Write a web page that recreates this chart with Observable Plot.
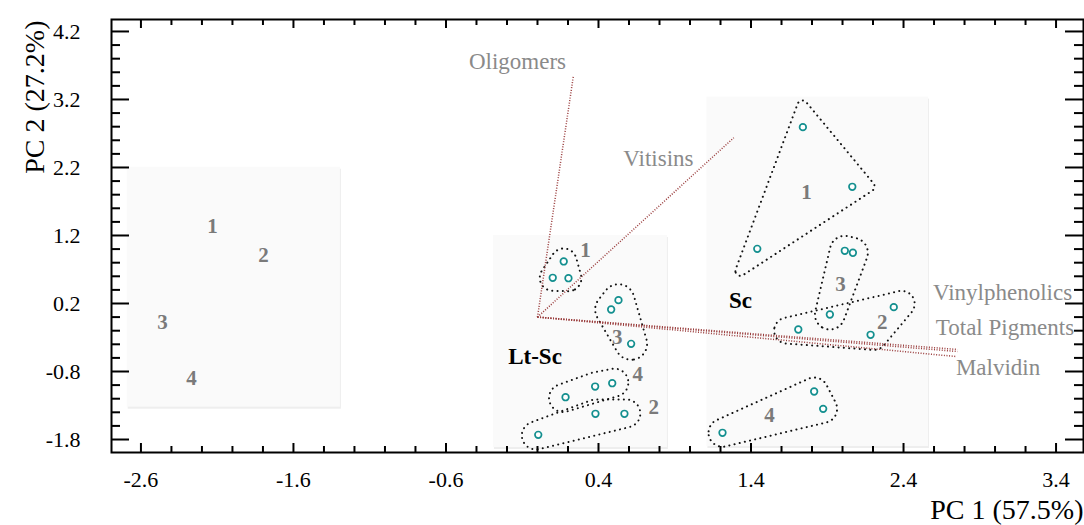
<!DOCTYPE html>
<html><head><meta charset="utf-8">
<script src="https://cdn.jsdelivr.net/npm/d3@7"></script>
<script src="https://cdn.jsdelivr.net/npm/@observablehq/plot@0.6"></script>
<style>body{margin:0;background:#fff;} #chart svg{display:block;}</style>
</head><body><div id="chart"></div>
<script>
// ---------- data ----------
const xTickValues = [-2.6, -1.6, -0.6, 0.4, 1.4, 2.4, 3.4];
const yTickValues = [-1.8, -0.8, 0.2, 1.2, 2.2, 3.2, 4.2];
const xAxisTitle = "PC 1 (57.5%)";
const yAxisTitle = "PC 2 (27.2%)";

// sample scores
const pointGroup = ["Lt-Sc 1","Lt-Sc 1","Lt-Sc 1","Lt-Sc 3","Lt-Sc 3","Lt-Sc 3",
                    "Lt-Sc 4","Lt-Sc 4","Lt-Sc 4","Lt-Sc 2","Lt-Sc 2","Lt-Sc 2",
                    "Sc 1","Sc 1","Sc 1","Sc 3","Sc 3","Sc 3",
                    "Sc 2","Sc 2","Sc 2","Sc 4","Sc 4","Sc 4"];
const pointPC1 = [0.172, 0.100, 0.203, 0.531, 0.483, 0.614,
                  0.184, 0.378, 0.490, 0.005, 0.380, 0.570,
                  1.740, 2.064, 1.441, 2.015, 2.068, 1.917,
                  1.710, 2.184, 2.336, 1.814, 1.873, 1.213];
const pointPC2 = [0.818, 0.578, 0.572, 0.249, 0.112, -0.393,
                  -1.178, -1.021, -0.972, -1.731, -1.422, -1.422,
                  2.793, 1.916, 1.004, 0.975, 0.946, 0.038,
                  -0.182, -0.260, 0.146, -1.094, -1.349, -1.701];

// group number labels
const groupLabelText = ["1","3","4","2","1","3","2","4","1","2","3","4"];
const groupLabelPC1 = [0.315, 0.523, 0.658, 0.763, 1.764, 1.987, 2.260, 1.521, -2.131, -1.797, -2.459, -2.269];
const groupLabelPC2 = [0.979, -0.296, -0.844, -1.325, 1.837, 0.479, -0.075, -1.447, 1.332, 0.906, -0.079, -0.903];

// strain labels
const strainNames = ["Lt-Sc", "Sc"];
const strainPC1 = [-0.016, 1.331];
const strainPC2 = [-0.579, 0.244];

// shaded panels
const panelX1 = [-2.690, -0.289, 1.111];
const panelX2 = [-1.292, 0.852, 2.564];
const panelY1 = [-1.325, -1.918, -1.903];
const panelY2 = [2.204, 1.200, 3.234];

// variable loadings (biplot vectors from the origin)
const loadingNames = ["Oligomers", "Vitisins", "Vinylphenolics", "Total Pigments", "Malvidin"];
const loadingPC1 = [0.236, 1.287, 2.754, 2.754, 2.741];
const loadingPC2 = [3.553, 2.637, -0.476, -0.506, -0.579];
const loadingLabelPC1 = [-0.131, 0.793, 3.049, 3.065, 3.020];
const loadingLabelPC2 = [3.763, 2.328, 0.366, -0.149, -0.746];
const origin = [0, 0];

// ---------- layout / style ----------
const W = 1084, H = 525;
const M = {top: 19, right: 1, bottom: 73, left: 111};
const xDomain = [-2.793, 3.58];
const yDomain = [-1.991, 4.376];
const FW = W - M.left - M.right, FH = H - M.top - M.bottom;
const kx = FW / (xDomain[1] - xDomain[0]);
const ky = FH / (yDomain[1] - yDomain[0]);
const serif = "'Liberation Serif', 'Times New Roman', serif";

// enclosure style: expansion about centroid and rounded padding (px)
const enclosureStyle = {
  "Lt-Sc 1": {scale: 1, pad: 13}, "Lt-Sc 3": {scale: 1, pad: 16},
  "Lt-Sc 4": {scale: 1.1, pad: 14}, "Lt-Sc 2": {scale: 1.05, pad: 14},
  "Sc 1": {scale: 1.36, pad: 5}, "Sc 3": {scale: 1, pad: 15},
  "Sc 2": {scale: 1.2, pad: 13}, "Sc 4": {scale: 1, pad: 14}
};

// ---------- derived tables ----------
const points = pointGroup.map((g, i) => ({g, x: pointPC1[i], y: pointPC2[i]}));
const enclosure = [];
for (const g of Object.keys(enclosureStyle)) {
  const pts = points.filter(p => p.g === g);
  const cx = d3.mean(pts, p => p.x), cy = d3.mean(pts, p => p.y);
  const {scale, pad} = enclosureStyle[g];
  for (const p of pts) {
    const bx = cx + (p.x - cx) * scale, by = cy + (p.y - cy) * scale;
    for (let k = 0; k < 36; k++) {
      const a = 2 * Math.PI * k / 36;
      enclosure.push({g, x: bx + pad * Math.cos(a) / kx, y: by + pad * Math.sin(a) / ky});
    }
  }
}
const groupLabels = groupLabelText.map((t, i) => ({t, x: groupLabelPC1[i], y: groupLabelPC2[i]}));
const strains = strainNames.map((t, i) => ({t, x: strainPC1[i], y: strainPC2[i]}));
const panels = panelX1.map((x1, i) => ({x1, x2: panelX2[i], y1: panelY1[i], y2: panelY2[i]}));
const loadings = loadingNames.map((n, i) => ({n, x1: origin[0], y1: origin[1], x2: loadingPC1[i], y2: loadingPC2[i],
  lx: loadingLabelPC1[i], ly: loadingLabelPC2[i]}));

const xMinor = d3.range(0, 31).map(i => +(-2.6 + i * 0.2).toFixed(1)).filter(v => !xTickValues.includes(v));
const yMinor = d3.range(0, 31).map(i => +(-1.8 + i * 0.2).toFixed(1)).filter(v => !yTickValues.includes(v));

const fmt = d => d.toFixed(1);

const chart = Plot.plot({
  width: W, height: H,
  marginTop: M.top, marginRight: M.right, marginBottom: M.bottom, marginLeft: M.left,
  x: {domain: xDomain, axis: null},
  y: {domain: yDomain, axis: null},
  style: {fontFamily: serif, fontSize: "22px", background: "#fff", overflow: "visible"},
  marks: [
    // shaded panels with soft shadow
    Plot.rect(panels, {x1: "x1", x2: "x2", y1: "y1", y2: "y2", fill: "#eeeeee", dy: 2, dx: 1}),
    Plot.rect(panels, {x1: "x1", x2: "x2", y1: "y1", y2: "y2", fill: "#fafafa"}),
    // dotted enclosures
    Plot.hull(enclosure, {x: "x", y: "y", z: "g", stroke: "#111", strokeWidth: 2,
      strokeDasharray: "0.1,5.2", strokeLinecap: "round", fill: "none"}),
    // loading vectors
    Plot.link(loadings, {x1: "x1", y1: "y1", x2: "x2", y2: "y2", stroke: "#993b3b",
      strokeWidth: 1.5, strokeDasharray: "1,1.6"}),
    Plot.text(loadings, {x: "lx", y: "ly", text: "n", fill: "#8a8a8a", fontSize: 23}),
    // sample points
    Plot.dot(points, {x: "x", y: "y", r: 3.3, stroke: "#138f8f", strokeWidth: 1.7, fill: "#fff"}),
    // group numbers
    Plot.text(groupLabels, {x: "x", y: "y", text: "t", fill: "#7a7a7a", fontSize: 21, fontWeight: "bold"}),
    Plot.text(strains, {x: "x", y: "y", text: "t", fill: "#000", fontSize: 23, fontWeight: "bold"}),
    // frame
    Plot.frame({stroke: "#000", strokeWidth: 2}),
    // inward ticks
    Plot.tickY(yTickValues, {y: d => d, insetRight: FW - 18, stroke: "#000", strokeWidth: 2}),
    Plot.tickY(yTickValues, {y: d => d, insetLeft: FW - 18, stroke: "#000", strokeWidth: 2}),
    Plot.tickY(yMinor, {y: d => d, insetRight: FW - 9, stroke: "#000", strokeWidth: 2}),
    Plot.tickY(yMinor, {y: d => d, insetLeft: FW - 9, stroke: "#000", strokeWidth: 2}),
    Plot.tickX(xTickValues, {x: d => d, insetTop: FH - 9, stroke: "#000", strokeWidth: 2}),
    Plot.tickX(xTickValues, {x: d => d, insetBottom: FH - 9, stroke: "#000", strokeWidth: 2}),
    Plot.tickX(xMinor, {x: d => d, insetTop: FH - 6, stroke: "#000", strokeWidth: 2}),
    Plot.tickX(xMinor, {x: d => d, insetBottom: FH - 6, stroke: "#000", strokeWidth: 2}),
    // tick labels
    Plot.text(yTickValues, {y: d => d, text: fmt, frameAnchor: "left", dx: -31, textAnchor: "end",
      lineAnchor: "middle", fontSize: 22, fill: "#000"}),
    Plot.text(xTickValues, {x: d => d, text: fmt, frameAnchor: "bottom", dy: 27, textAnchor: "middle",
      lineAnchor: "middle", fontSize: 22, fill: "#000"}),
    // axis titles
    Plot.text([xAxisTitle], {frameAnchor: "bottom-right", dy: 58, textAnchor: "end", lineAnchor: "middle",
      fontSize: 28, fill: "#000"}),
    Plot.text([yAxisTitle], {frameAnchor: "top-left", dx: -76, dy: 1, rotate: -90, textAnchor: "end",
      lineAnchor: "middle", fontSize: 28, fill: "#000"})
  ]
});
document.getElementById("chart").append(chart);
</script>
</body></html>
